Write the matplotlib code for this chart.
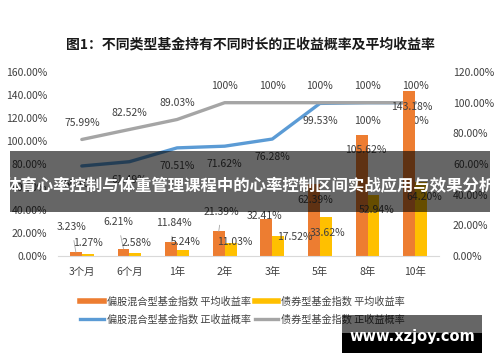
import matplotlib
matplotlib.use("Agg")
import matplotlib.pyplot as plt
from matplotlib.patches import Rectangle
from matplotlib.lines import Line2D
import numpy as np

plt.rcParams['font.family'] = ['Noto Sans CJK SC', 'DejaVu Sans']

# data
periods = ["3个月", "6个月", "1年", "2年", "3年", "5年", "8年", "10年"]
stock_avg = [3.23, 6.21, 11.84, 21.39, 32.41, 62.39, 105.62, 143.18]
bond_avg = [1.27, 2.58, 5.24, 11.03, 17.52, 33.62, 52.94, 64.20]
stock_prob = [58.70, 61.49, 70.51, 71.62, 76.28, 99.53, 100, 100]
bond_prob = [75.99, 82.52, 89.03, 100, 100, 100, 100, 100]

title = "图1：不同类型基金持有不同时长的正收益概率及平均收益率"
banner = "体育心率控制与体重管理课程中的心率控制区间实战应用与效果分析"
names = ["偏股混合型基金指数 平均收益率", "债券型基金指数 平均收益率",
         "偏股混合型基金指数 正收益概率", "债券型基金指数 正收益概率"]

c_orange, c_yellow, c_blue, c_gray = "#ED7D31", "#FFC000", "#5B9BD5", "#A5A5A5"
txt = "#404040"

# label offsets in points (dx, dy) relative to the anchor
orange_off = [(-3, 18), (-4, 19), (2, 14), (2, 14), (-1, 2), (1, -11), (3, -11), (2, -11)]
orange_lead = [True, True, True, True, False, False, False, False]
yellow_off = [(0, 8), (1, 7), (2, 6), (3, 1), (12, -1), (1, -11), (2, -11), (2, -11)]

fig = plt.figure(figsize=(5, 3.62), dpi=100)
ax = fig.add_axes([0.116, 0.293, 0.762, 0.508])
ax2 = ax.twinx()
ax.set_zorder(ax2.get_zorder() + 1)
ax.patch.set_visible(False)

x = np.arange(len(periods))
w = 0.25
ax.bar(x - w / 2, stock_avg, w, color=c_orange)
ax.bar(x + w / 2, bond_avg, w, color=c_yellow)

ax2.plot(x, stock_prob, color=c_blue, lw=2.4, solid_capstyle='round')
ax2.plot(x, bond_prob, color=c_gray, lw=2.4, solid_capstyle='round')

ax.set_xlim(-0.5, len(periods) - 0.5)
ax.set_ylim(0, 160)
ax2.set_ylim(0, 120)
ax.set_yticks(np.arange(0, 161, 20))
ax.set_yticklabels(["%.2f%%" % v for v in np.arange(0, 161, 20)])
ax2.set_yticks(np.arange(0, 121, 20))
ax2.set_yticklabels(["%.2f%%" % v for v in np.arange(0, 121, 20)])
ax.set_xticks(x)
ax.set_xticklabels(periods)

for a in (ax, ax2):
    for s in a.spines.values():
        s.set_visible(False)
    a.tick_params(length=0, labelsize=7.5, colors=txt)
ax.tick_params(axis='y', pad=8)
ax2.tick_params(axis='y', pad=10)
ax.tick_params(axis='x', pad=8)
ax.spines['bottom'].set_visible(True)
ax.spines['bottom'].set_color("#D9D9D9")

for i, v in enumerate(stock_avg):
    xy = (x[i] - w / 2, v)
    arrow = dict(arrowstyle='-', color="#A6A6A6", lw=0.6, shrinkA=4, shrinkB=0) if orange_lead[i] else None
    ax.annotate("%.2f%%" % v, xy, xytext=orange_off[i], textcoords='offset points',
                ha='center', va='center', fontsize=7.5, color=txt, arrowprops=arrow)
for i, v in enumerate(bond_avg):
    ax.annotate("%.2f%%" % v, (x[i] + w / 2, v), xytext=yellow_off[i], textcoords='offset points',
                ha='center', va='center', fontsize=7.5, color=txt)
for i, v in enumerate(stock_prob):
    s = "100%" if v == 100 else "%.2f%%" % v
    ax2.annotate(s, (x[i], v), xytext=(0, -13), textcoords='offset points',
                 ha='center', va='center', fontsize=7.5, color=txt)
for i, v in enumerate(bond_prob):
    s = "100%" if v == 100 else "%.2f%%" % v
    ax2.annotate(s, (x[i], v), xytext=(0, 12), textcoords='offset points',
                 ha='center', va='center', fontsize=7.5, color=txt)

handles = [Line2D([], [], color=c_orange, lw=4),
           Line2D([], [], color=c_blue, lw=2.4),
           Line2D([], [], color=c_yellow, lw=4),
           Line2D([], [], color=c_gray, lw=2.4)]
fig.legend(handles, [names[0], names[2], names[1], names[3]], ncol=2,
           loc='center', bbox_to_anchor=(0.485, 0.143), frameon=False,
           fontsize=7.3, handlelength=2.3, handletextpad=0.3, columnspacing=0.4,
           labelspacing=0.75, labelcolor=txt)

fig.text(0.5, 0.876, title, ha='center', va='center', fontsize=10, fontweight='bold', color="#1a1a1a")

# overlay banner and watermark
fig.add_artist(Rectangle((0.02, 0.414), 0.96, 0.1685, transform=fig.transFigure,
                         facecolor='black', alpha=0.6, zorder=10))
fig.text(0.5, 0.486, banner, ha='center', va='center', fontsize=11.8, fontweight='bold',
         color='white', zorder=11)
fig.add_artist(Rectangle((0.684, 0.0801), 0.28, 0.0497, transform=fig.transFigure,
                         facecolor='black', alpha=0.6, zorder=10))
fig.add_artist(Rectangle((0.684, 0.0249), 0.28, 0.0552, transform=fig.transFigure,
                         facecolor='black', zorder=10))
fig.text(0.824, 0.071, "www.xzjoy.com", ha='center', va='center', fontsize=10.5,
         fontweight='bold', color='white', family='DejaVu Sans', zorder=11)

fig.savefig("out.png", dpi=100)
